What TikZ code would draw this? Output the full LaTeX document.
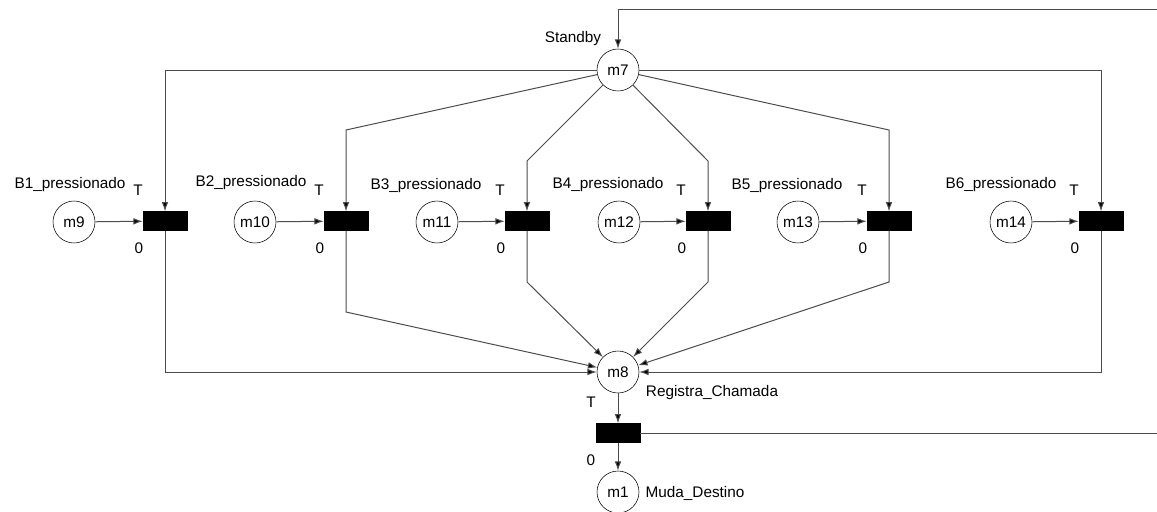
\documentclass[tikz,border=0pt]{standalone}
\usepackage{fontspec}
\setmainfont{Liberation Sans}
\usetikzlibrary{shapes,arrows,arrows.meta}
\usetikzlibrary{positioning}
\tikzstyle{line} = [draw, -{Latex[length=7pt,width=5pt,fill=black]}]

\begin{document}
\begin{tikzpicture}[x=0.75pt, y=-0.75pt,
	every node/.style={font=\fontsize{11.5}{13}\selectfont},
	place/.style={draw, circle, minimum size=31.5pt, inner sep=0pt, fill=white},
	trans/.style={draw, rectangle, fill=black, minimum width=33pt,
		minimum height=14pt, inner sep=0pt},
	lbl/.style={inner sep=0pt}]
	\useasboundingbox (0,0) rectangle (1157,511);
	%% Places
	\node [place] at (618,70) (m7) {m7};
	\node [place] at (74,222) (m9) {m9};
	\node [place] at (255,222) (m10) {m10};
	\node [place] at (437,222) (m11) {m11};
	\node [place] at (619,222) (m12) {m12};
	\node [place] at (798,222) (m13) {m13};
	\node [place] at (1011,222) (m14) {m14};
	\node [place] at (618,372) (m8) {m8};
	\node [place] at (618,492) (m1) {m1};
	%% Transitions
	\node [trans] at (165,221) (t9) {};
	\node [trans] at (346,221) (t10) {};
	\node [trans] at (527,221) (t11) {};
	\node [trans] at (708,221) (t12) {};
	\node [trans] at (889,221) (t13) {};
	\node [trans] at (1101,221) (t14) {};
	\node [trans] at (618,433) (t8) {};
	%% Labels
	\node [lbl] at (573,39) (Lm7) {Standby};
	\node [lbl] at (70,185) (Lm9) {B1\_pressionado};
	\node [lbl] at (251,183) (Lm10) {B2\_pressionado};
	\node [lbl] at (426,186) (Lm11) {B3\_pressionado};
	\node [lbl] at (608,185) (Lm12) {B4\_pressionado};
	\node [lbl] at (787,186) (Lm13) {B5\_pressionado};
	\node [lbl] at (1001,185) (Lm14) {B6\_pressionado};
	\node [lbl] at (712,393) (Lm8) {Registra\_Chamada};
	\node [lbl] at (695,493) (Lm1) {Muda\_Destino};
	\foreach \t/\x in {t9/165, t10/346, t11/527, t12/708, t13/889, t14/1101} {
		\node [lbl] at (\x-27,190) (T\t) {T};
		\node [lbl] at (\x-26,248) (Z\t) {0};
	}
	\node [lbl] at (591,402) (Tt8) {T};
	\node [lbl] at (591,460) (Zt8) {0};
	%% Bends
	\coordinate (a10) at (346,130);
	\coordinate (a11) at (527,161);
	\coordinate (a12) at (708,161);
	\coordinate (a13) at (889,130);
	\coordinate (b10) at (346,312);
	\coordinate (b11) at (527,282);
	\coordinate (b12) at (708,282);
	\coordinate (b13) at (889,282);
	\coordinate (e1) at (1157,9);
	\coordinate (e2) at (1157,433);
	%% Arcs
	\begin{scope}[draw=black!70, line width=0.75pt]
	\path [line] (m9) -- (t9);
	\path [line] (m10) -- (t10);
	\path [line] (m11) -- (t11);
	\path [line] (m12) -- (t12);
	\path [line] (m13) -- (t13);
	\path [line] (m14) -- (t14);
	\path [line] (m7) -| (t9);
	\path [line] (m7) -| (t14);
	\path [line] (m7) -- (a10) -- (t10);
	\path [line] (m7) -- (a11) -- (t11);
	\path [line] (m7) -- (a12) -- (t12);
	\path [line] (m7) -- (a13) -- (t13);
	\path [line] (t9) |- (m8);
	\path [line] (t14) |- (m8);
	\path [line] (t10) -- (b10) -- (m8);
	\path [line] (t11) -- (b11) -- (m8);
	\path [line] (t12) -- (b12) -- (m8);
	\path [line] (t13) -- (b13) -- (m8);
	\path [line] (m8) -- (t8);
	\path [line] (t8) -- (m1);
	\draw (t8) -- (e2);
	\path [line] (e1) -| (m7);
	\end{scope}
\end{tikzpicture}
\end{document}
